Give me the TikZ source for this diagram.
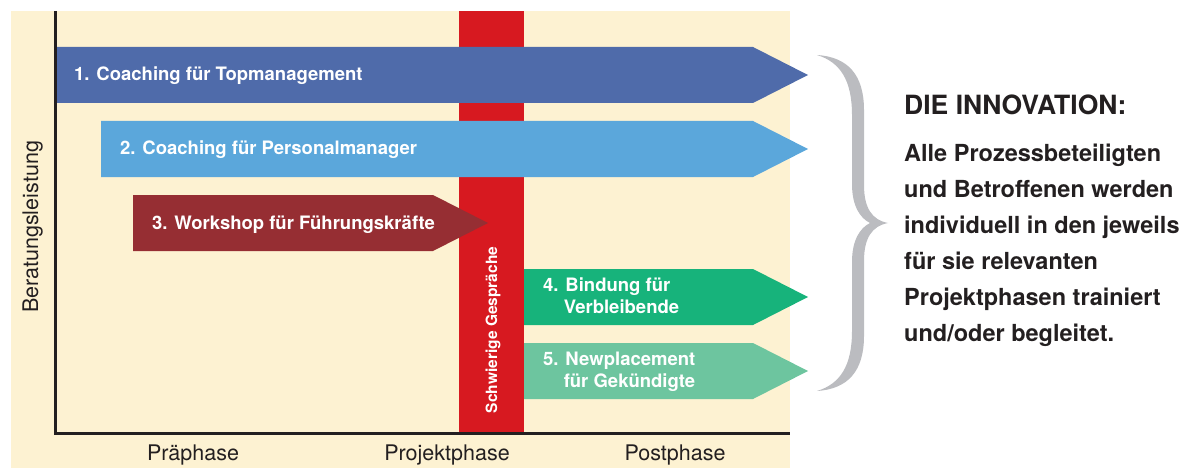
\documentclass[tikz,border=0pt]{standalone}
\usepackage{fontspec}
\setmainfont{TeX Gyre Heros}
\usepackage{tikz}

\definecolor{cream}{HTML}{FDF2D2}
\definecolor{talkred}{HTML}{D71920}
\definecolor{topblue}{HTML}{4F6BAA}
\definecolor{hrblue}{HTML}{5BA7DB}
\definecolor{wsred}{HTML}{962E33}
\definecolor{keepgreen}{HTML}{17B37B}
\definecolor{placegreen}{HTML}{6DC59F}
\definecolor{bracegray}{HTML}{BBBCC0}
\definecolor{ink}{HTML}{231F20}

\begin{document}
\begin{tikzpicture}[x=1pt,y=-1pt,
    lbl/.style={text=white,inner sep=0pt,anchor=base west,align=left,
      font=\bfseries\fontsize{18.5}{22}\selectfont},
    axislbl/.style={text=ink,inner sep=0pt,anchor=base,font=\fontsize{21.5}{24}\selectfont},
    axis/.style={draw=ink,line width=3pt,line join=miter}]
  \useasboundingbox (0,0) rectangle (1202,468);

  \fill[cream] (11,11) rectangle (790,468);
  \fill[talkred] (459,11) rectangle (524,432);
  \node[text=white,inner sep=0pt,anchor=base,rotate=90,
        font=\bfseries\fontsize{15.5}{18}\selectfont] (talks) at (497,330) {Schwierige Gespräche};

  % phase arrows: name/colour/start/top/tip/baseline of last line/label
  \foreach \nm/\col/\xs/\yt/\xe/\dy/\txt in {
      top/topblue/55/47/808/34/{1. Coaching für Topmanagement},
      hr/hrblue/101/121/808/34/{2. Coaching für Personalmanager},
      ws/wsred/133/195/488/34/{3. Workshop für Führungskräfte},
      keep/keepgreen/524/269/808/44/{4. Bindung für\\\phantom{4.\ }Verbleibende},
      place/placegreen/524/343/808/44/{5. Newplacement\\\phantom{5.\ }für Gekündigte}} {
    \fill[\col] (\xs,\yt) -- (\xe-55,\yt) -- (\xe,\yt+28) -- (\xe-55,\yt+56) -- (\xs,\yt+56) -- cycle;
    \node[lbl] (\nm) at (\xs+19,\yt+\dy) {\txt};
  }

  \draw[axis] (55,11) |- (790,433);
  \foreach \nm/\x/\txt in {pre/193/Präphase,proj/447/Projektphase,post/675/Postphase}
    \node[axislbl] (\nm) at (\x,460) {\txt};
  \node[axislbl,rotate=90] (yaxis) at (38,227) {Beratungsleistung};

  % curly brace
  \fill[bracegray] (817,55) .. controls (848,57) and (864,75) .. (864,110)
    -- (864,185) .. controls (864,208) and (872,220) .. (888,223)
    .. controls (872,226) and (864,238) .. (864,261)
    -- (864,336) .. controls (864,371) and (848,389) .. (817,391)
    .. controls (840,384) and (852,366) .. (852,331)
    -- (852,262) .. controls (852,240) and (860,228) .. (870,223)
    .. controls (860,218) and (852,206) .. (852,184)
    -- (852,115) .. controls (852,80) and (840,62) .. (817,55) -- cycle;

  \node[text=ink,inner sep=0pt,anchor=base west,
        font=\bfseries\fontsize{26.5}{30}\selectfont] (head) at (904,115) {DIE INNOVATION:};
  \node[text=ink,inner sep=0pt,anchor=base west,align=left,
        font=\bfseries\fontsize{23.5}{36}\selectfont] (body) at (904,341)
    {Alle Prozessbeteiligten\\und Betroffenen werden\\individuell in den jeweils\\für sie relevanten\\Projektphasen trainiert\\und/oder begleitet.};
\end{tikzpicture}
\end{document}
